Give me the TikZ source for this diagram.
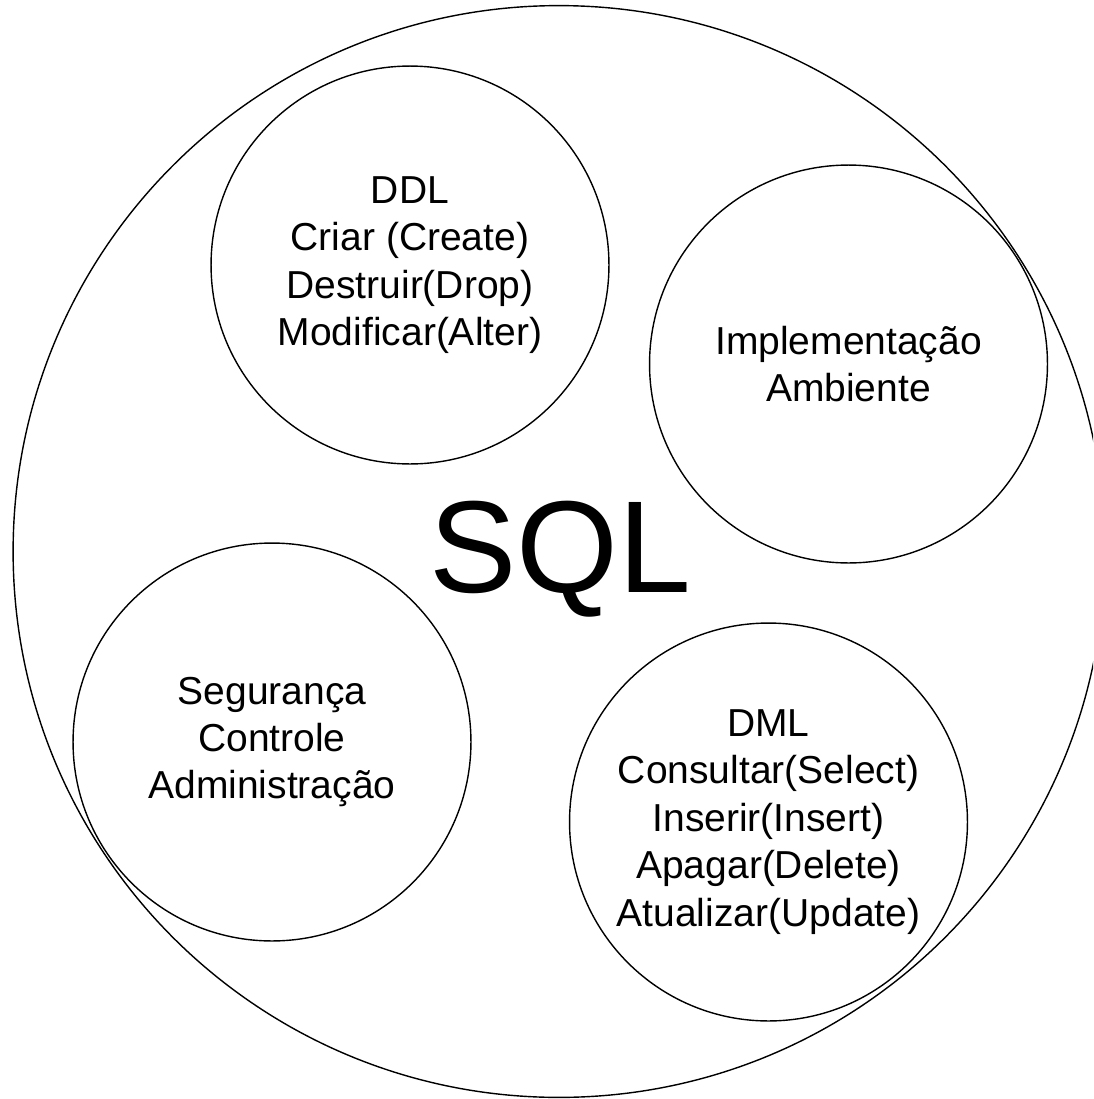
\documentclass[tikz,border=0pt]{standalone}
\usepackage{fontspec}
\setmainfont{Liberation Sans}
\begin{document}
\begin{tikzpicture}[x=0.02cm, y=-0.02cm,
  part/.style={circle, draw, line width=0.8pt, minimum size=7.96cm,
    inner sep=0pt, align=center,
    font=\fontsize{22.2pt}{27pt}\selectfont},
  whole/.style={circle, draw, line width=0.8pt, minimum size=21.84cm,
    inner sep=0pt},
  bigtitle/.style={font=\fontsize{74.5pt}{80pt}\selectfont, anchor=base, inner sep=0pt}]
\useasboundingbox (0,0) rectangle (1093,1099);
\clip (0,0) rectangle (1093,1099);
% outer circle: the SQL language as a whole
\node[whole] (sql) at (559,551.5) {};
\node[bigtitle] (sqltitle) at (560,592) {SQL};
% its sub-languages and areas
\node[part] (ddl) at (410,265)
  {DDL\\Criar (Create)\\Destruir(Drop)\\Modificar(Alter)};
\node[part] (impl) at (848.5,364) {Implementação\\Ambiente};
\node[part] (seg) at (272,742) {Segurança\\Controle\\Administração};
\node[part] (dml) at (768.5,822)
  {DML\\Consultar(Select)\\Inserir(Insert)\\Apagar(Delete)\\Atualizar(Update)};
\end{tikzpicture}
\end{document}
